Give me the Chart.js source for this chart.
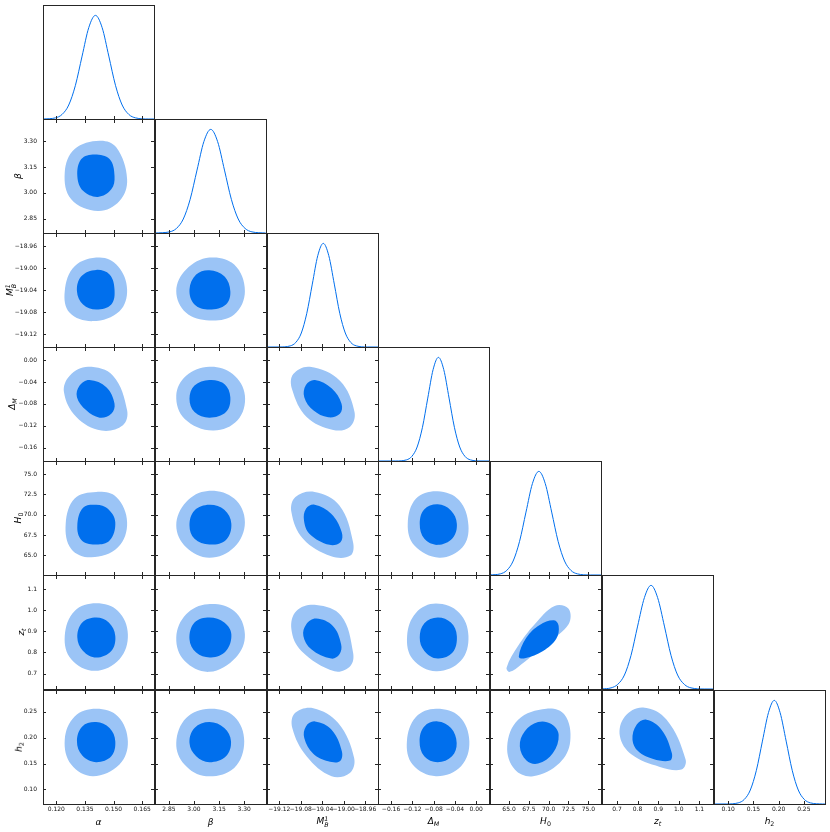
<!DOCTYPE html>
<html>
<head>
<meta charset="utf-8">
<script src="https://cdn.jsdelivr.net/npm/chart.js@4.4.1/dist/chart.umd.min.js"></script>
<style>
  body { margin: 0; background: #fff; }
  #fig { position: relative; width: 830px; height: 832px; overflow: hidden; background: #fff; }
  #fig canvas { position: absolute; }
  .lab { position: absolute; font-family: "DejaVu Sans"; font-size: 9px; color: #000; white-space: nowrap; transform: translate(-50%, -50%); line-height: 1; }
  .lab.rot { transform: translate(-50%, -50%) rotate(-90deg); }
  .lab sub { font-size: 0.7em; vertical-align: -0.35em; }
  .ss { display: inline-flex; flex-direction: column; font-size: 0.7em; line-height: 1; vertical-align: 3.5px; font-style: italic; }
  .ss sup, .ss sub { font-size: 1em; vertical-align: baseline; }
</style>
</head>
<body>
<div id="fig"></div>
<script>
// axis limits and ticks, one per parameter
const alphaLim = [0.113, 0.1712];
const betaLim = [2.767, 3.43];
const mbLim = [-19.143, -18.936];
const dmLim = [-0.1845, 0.024];
const h0Lim = [62.6, 76.6];
const ztLim = [0.627, 1.166];
const h2Lim = [0.072, 0.292];

const alphaTicks = [0.120, 0.135, 0.150, 0.165];
const betaTicks = [2.85, 3.00, 3.15, 3.30];
const mbTicks = [-19.12, -19.08, -19.04, -19.00, -18.96];
const dmTicks = [-0.16, -0.12, -0.08, -0.04, 0.00];
const h0Ticks = [65.0, 67.5, 70.0, 72.5, 75.0];
const ztTicks = [0.7, 0.8, 0.9, 1.0, 1.1];
const h2Ticks = [0.10, 0.15, 0.20, 0.25];

// 1D marginals (diagonal)
const alphaGrid = [0.113, 0.1195, 0.123, 0.1265, 0.130, 0.1335, 0.137, 0.1405, 0.144, 0.1475, 0.151, 0.1545, 0.158, 0.1615, 0.1685, 0.1712];
const alphaPdf = [0, 0.011, 0.044, 0.135, 0.325, 0.607, 0.882, 1, 0.882, 0.607, 0.325, 0.135, 0.044, 0.011, 0, 0];
const betaGrid = [2.767, 2.854, 2.895, 2.936, 2.977, 3.018, 3.059, 3.100, 3.141, 3.182, 3.223, 3.264, 3.305, 3.346, 3.428];
const betaPdf = [0, 0.011, 0.044, 0.135, 0.325, 0.607, 0.882, 1, 0.882, 0.607, 0.325, 0.135, 0.044, 0.011, 0];
const mbGrid = [-19.143, -19.120, -19.0995, -19.0893, -19.079, -19.0688, -19.0585, -19.0483, -19.038, -19.0278, -19.0175, -19.0073, -18.997, -18.9868, -18.9765, -18.956, -18.936];
const mbPdf = [0, 0.0003, 0.011, 0.044, 0.135, 0.325, 0.607, 0.882, 1, 0.882, 0.607, 0.325, 0.135, 0.044, 0.011, 0.0003, 0];
const dmGrid = [-0.1845, -0.151, -0.131, -0.121, -0.111, -0.101, -0.091, -0.081, -0.071, -0.061, -0.051, -0.041, -0.031, -0.021, -0.011, 0.009, 0.024];
const dmPdf = [0, 0.0003, 0.011, 0.044, 0.135, 0.325, 0.607, 0.882, 1, 0.882, 0.607, 0.325, 0.135, 0.044, 0.011, 0.0003, 0];
const h0Grid = [62.6, 63.9, 64.71, 65.52, 66.33, 67.14, 67.95, 68.76, 69.57, 70.38, 71.19, 72.0, 72.81, 73.62, 75.24, 76.6];
const h0Pdf = [0.001, 0.011, 0.044, 0.135, 0.325, 0.607, 0.882, 1, 0.882, 0.607, 0.325, 0.135, 0.044, 0.011, 0.0003, 0];
const ztGrid = [0.627, 0.671, 0.703, 0.736, 0.768, 0.800, 0.833, 0.865, 0.897, 0.930, 0.962, 0.994, 1.027, 1.059, 1.123, 1.166];
const ztPdf = [0.001, 0.011, 0.044, 0.135, 0.325, 0.607, 0.882, 1, 0.882, 0.607, 0.325, 0.135, 0.044, 0.011, 0.0003, 0];
const h2Grid = [0.072, 0.0963, 0.120, 0.132, 0.144, 0.156, 0.168, 0.180, 0.1915, 0.203, 0.215, 0.227, 0.239, 0.251, 0.263, 0.287, 0.292];
const h2Pdf = [0, 0.0003, 0.011, 0.044, 0.135, 0.325, 0.607, 0.882, 1, 0.882, 0.607, 0.325, 0.135, 0.044, 0.011, 0.0003, 0];

// 2D contours: [x, y] boundary points, 95% (out) and 68% (in)
const betaAlphaOut = [[0.1571,3.080],[0.1514,3.265],[0.1427,3.304],[0.1296,3.255],[0.1244,3.119],[0.1278,2.963],[0.1418,2.895],[0.1531,2.953]];
const betaAlphaIn = [[0.1505,3.099],[0.1479,3.197],[0.1401,3.224],[0.1331,3.197],[0.1310,3.099],[0.1340,3.012],[0.1418,2.977],[0.1488,3.021]];

const mbAlphaOut = [[0.1571,-19.0386],[0.1523,-18.9964],[0.1427,-18.9807],[0.1296,-18.9964],[0.1244,-19.0417],[0.1270,-19.0809],[0.1392,-19.0960],[0.1531,-19.0779]];
const mbAlphaIn = [[0.1505,-19.0386],[0.1479,-19.0115],[0.1409,-19.0030],[0.1331,-19.0145],[0.1308,-19.0417],[0.1340,-19.0658],[0.1409,-19.0749],[0.1488,-19.0658]];
const mbBetaOut = [[3.304,-19.0417],[3.240,-18.9934],[3.092,-18.9807],[2.953,-19.0024],[2.894,-19.0417],[2.953,-19.0809],[3.092,-19.0948],[3.240,-19.0839]];
const mbBetaIn = [[3.217,-19.0417],[3.181,-19.0145],[3.092,-19.0036],[3.013,-19.0115],[2.973,-19.0386],[3.003,-19.0658],[3.092,-19.0749],[3.191,-19.0658]];

const dmAlphaOut = [[0.1571,-0.0919],[0.1497,-0.0285],[0.1366,-0.0122],[0.1270,-0.0285],[0.1240,-0.0587],[0.1305,-0.1040],[0.1436,-0.1288],[0.1549,-0.1191]];
const dmAlphaIn = [[0.1505,-0.0798],[0.1462,-0.0497],[0.1374,-0.0364],[0.1322,-0.0466],[0.1308,-0.0678],[0.1357,-0.0919],[0.1427,-0.1052],[0.1488,-0.0980]];
const dmBetaOut = [[3.304,-0.0648],[3.231,-0.0255],[3.092,-0.0122],[2.953,-0.0285],[2.894,-0.0648],[2.943,-0.1070],[3.112,-0.1288],[3.260,-0.1100]];
const dmBetaIn = [[3.217,-0.0678],[3.181,-0.0436],[3.092,-0.0364],[3.003,-0.0466],[2.973,-0.0708],[3.003,-0.0949],[3.092,-0.1052],[3.191,-0.0949]];
const dmMbOut = [[-18.9798,-0.0949],[-19.0071,-0.0376],[-19.0629,-0.0122],[-19.0940,-0.0255],[-19.0964,-0.0527],[-19.0691,-0.1040],[-19.0195,-0.1276],[-18.9885,-0.1221]];
const dmMbIn = [[-19.0040,-0.0798],[-19.0226,-0.0515],[-19.0536,-0.0364],[-19.0704,-0.0454],[-19.0735,-0.0678],[-19.0567,-0.0919],[-19.0288,-0.1046],[-19.0071,-0.0980]];

const h0AlphaOut = [[0.1571,69.09],[0.1514,72.18],[0.1409,72.80],[0.1296,71.98],[0.1249,68.89],[0.1278,65.80],[0.1383,64.77],[0.1523,66.01]];
const h0AlphaIn = [[0.1509,69.09],[0.1470,70.74],[0.1409,71.23],[0.1340,70.86],[0.1310,68.68],[0.1331,66.91],[0.1401,66.34],[0.1479,66.83]];
const h0BetaOut = [[3.304,69.09],[3.240,71.98],[3.082,72.92],[2.953,71.56],[2.894,68.68],[2.953,66.01],[3.092,64.73],[3.240,66.01]];
const h0BetaIn = [[3.223,68.89],[3.181,70.62],[3.092,71.23],[3.003,70.53],[2.973,68.68],[3.003,67.04],[3.092,66.34],[3.191,66.91]];
const h0MbOut = [[-18.9825,66.63],[-19.0079,71.15],[-19.0542,72.80],[-19.0900,72.18],[-19.0975,70.33],[-19.0758,67.04],[-19.0233,64.90],[-18.9875,64.98]];
const h0MbIn = [[-19.0036,67.86],[-19.0233,70.12],[-19.0542,71.23],[-19.0703,70.74],[-19.0740,69.30],[-19.0635,67.65],[-19.0264,66.30],[-19.0060,66.63]];
const h0DmOut = [[-0.0146,68.68],[-0.0321,71.77],[-0.0725,72.88],[-0.1130,71.98],[-0.1286,68.89],[-0.1161,66.21],[-0.0694,64.73],[-0.0258,66.01]];
const h0DmIn = [[-0.0364,68.89],[-0.0476,70.53],[-0.0725,71.28],[-0.0974,70.66],[-0.1061,68.89],[-0.0974,67.04],[-0.0725,66.30],[-0.0445,67.12]];

const ztAlphaOut = [[0.1575,0.886],[0.1523,0.996],[0.1409,1.032],[0.1296,0.996],[0.1244,0.878],[0.1278,0.768],[0.1401,0.713],[0.1531,0.768]];
const ztAlphaIn = [[0.1509,0.878],[0.1475,0.941],[0.1409,0.965],[0.1336,0.941],[0.1310,0.870],[0.1340,0.807],[0.1409,0.776],[0.1488,0.807]];
const ztBetaOut = [[3.304,0.886],[3.240,0.996],[3.082,1.028],[2.953,0.980],[2.894,0.870],[2.943,0.760],[3.092,0.708],[3.250,0.776]];
const ztBetaIn = [[3.223,0.886],[3.181,0.941],[3.092,0.965],[3.003,0.941],[2.973,0.862],[3.013,0.799],[3.102,0.776],[3.191,0.807]];
const ztMbOut = [[-18.9825,0.799],[-19.0048,0.973],[-19.0511,1.024],[-19.0882,0.996],[-19.0975,0.909],[-19.0789,0.807],[-19.0171,0.711],[-18.9875,0.736]];
const ztMbIn = [[-19.0048,0.839],[-19.0202,0.925],[-19.0511,0.960],[-19.0697,0.933],[-19.0752,0.878],[-19.0604,0.815],[-19.0233,0.771],[-19.0079,0.791]];
const ztDmOut = [[-0.0146,0.878],[-0.0321,0.988],[-0.0756,1.031],[-0.1130,0.988],[-0.1298,0.878],[-0.1192,0.768],[-0.0756,0.711],[-0.0289,0.760]];
const ztDmIn = [[-0.0364,0.878],[-0.0476,0.941],[-0.0725,0.965],[-0.0974,0.938],[-0.1061,0.870],[-0.0974,0.807],[-0.0725,0.771],[-0.0445,0.799]];
const ztH0Out = [[64.69,0.728],[66.15,0.831],[68.24,0.933],[70.75,1.020],[72.51,1.007],[72.51,0.933],[69.92,0.847],[66.57,0.744],[65.10,0.708]];
const ztH0In = [[66.23,0.780],[67.20,0.870],[68.87,0.930],[70.67,0.952],[71.26,0.925],[70.96,0.865],[69.29,0.807],[66.99,0.772]];

const h2AlphaOut = [[0.1575,0.1929],[0.1523,0.2410],[0.1409,0.2558],[0.1296,0.2410],[0.1244,0.1962],[0.1278,0.1481],[0.1392,0.1256],[0.1531,0.1481]];
const h2AlphaIn = [[0.1509,0.1929],[0.1479,0.2186],[0.1409,0.2301],[0.1336,0.2218],[0.1308,0.1929],[0.1336,0.1654],[0.1409,0.1526],[0.1488,0.1641]];
const h2BetaOut = [[3.300,0.1929],[3.240,0.2410],[3.092,0.2558],[2.953,0.2378],[2.894,0.1897],[2.943,0.1481],[3.072,0.1256],[3.240,0.1417]];
const h2BetaIn = [[3.221,0.1929],[3.181,0.2186],[3.092,0.2301],[3.003,0.2186],[2.973,0.1897],[3.013,0.1641],[3.092,0.1526],[3.191,0.1641]];
const h2MbOut = [[-18.9805,0.1609],[-19.0102,0.2282],[-19.0567,0.2570],[-19.0909,0.2474],[-19.0958,0.2186],[-19.0692,0.1641],[-19.0226,0.1256],[-18.9885,0.1320]];
const h2MbIn = [[-19.0034,0.1737],[-19.0226,0.2154],[-19.0536,0.2314],[-19.0704,0.2218],[-19.0735,0.1994],[-19.0567,0.1692],[-19.0288,0.1545],[-19.0071,0.1545]];
const h2DmOut = [[-0.0129,0.1929],[-0.0317,0.2410],[-0.0756,0.2558],[-0.1133,0.2397],[-0.1302,0.1929],[-0.1195,0.1481],[-0.0756,0.1256],[-0.0285,0.1449]];
const h2DmIn = [[-0.0367,0.1897],[-0.0474,0.2186],[-0.0725,0.2314],[-0.0976,0.2218],[-0.1064,0.1929],[-0.0976,0.1641],[-0.0725,0.1526],[-0.0455,0.1641]];
const h2H0Out = [[72.72,0.1930],[72.01,0.2442],[69.71,0.2558],[66.15,0.2346],[64.77,0.1833],[65.73,0.1385],[68.03,0.1256],[71.38,0.1513]];
const h2H0In = [[71.26,0.2058],[70.33,0.2263],[68.66,0.2301],[66.99,0.2122],[66.36,0.1833],[67.20,0.1558],[68.66,0.1500],[70.54,0.1705]];
const h2ZtOut = [[1.033,0.1577],[0.941,0.2346],[0.827,0.2583],[0.738,0.2410],[0.714,0.2026],[0.771,0.1673],[0.908,0.1436],[1.013,0.1385]];
const h2ZtIn = [[0.966,0.1705],[0.916,0.2154],[0.843,0.2346],[0.795,0.2250],[0.775,0.1962],[0.803,0.1737],[0.876,0.1590],[0.957,0.1558]];

// layout of the grid
const PW = 111, PH = 114;
const colLeft = [43, 155, 267, 378, 490, 602, 714];
const rowTop = [5, 119, 233, 347, 461, 575, 690];

const DARK = '#006FED';
const LIGHT = '#9BC4F6';

const params = [
  { lim: alphaLim, ticks: alphaTicks, dec: 3, grid: alphaGrid, pdf: alphaPdf },
  { lim: betaLim, ticks: betaTicks, dec: 2, grid: betaGrid, pdf: betaPdf },
  { lim: mbLim, ticks: mbTicks, dec: 2, grid: mbGrid, pdf: mbPdf },
  { lim: dmLim, ticks: dmTicks, dec: 2, grid: dmGrid, pdf: dmPdf },
  { lim: h0Lim, ticks: h0Ticks, dec: 1, grid: h0Grid, pdf: h0Pdf },
  { lim: ztLim, ticks: ztTicks, dec: 1, grid: ztGrid, pdf: ztPdf },
  { lim: h2Lim, ticks: h2Ticks, dec: 2, grid: h2Grid, pdf: h2Pdf },
];

// [row, col, outer, inner]
const contours = [
  [1, 0, betaAlphaOut, betaAlphaIn],
  [2, 0, mbAlphaOut, mbAlphaIn], [2, 1, mbBetaOut, mbBetaIn],
  [3, 0, dmAlphaOut, dmAlphaIn], [3, 1, dmBetaOut, dmBetaIn], [3, 2, dmMbOut, dmMbIn],
  [4, 0, h0AlphaOut, h0AlphaIn], [4, 1, h0BetaOut, h0BetaIn], [4, 2, h0MbOut, h0MbIn], [4, 3, h0DmOut, h0DmIn],
  [5, 0, ztAlphaOut, ztAlphaIn], [5, 1, ztBetaOut, ztBetaIn], [5, 2, ztMbOut, ztMbIn], [5, 3, ztDmOut, ztDmIn], [5, 4, ztH0Out, ztH0In],
  [6, 0, h2AlphaOut, h2AlphaIn], [6, 1, h2BetaOut, h2BetaIn], [6, 2, h2MbOut, h2MbIn], [6, 3, h2DmOut, h2DmIn], [6, 4, h2H0Out, h2H0In], [6, 5, h2ZtOut, h2ZtIn],
];

const axisNames = [
  '<i>α</i>',
  '<i>β</i>',
  '<i>M</i><span class="ss"><sup>1</sup><sub>B</sub></span>',
  '<i>Δ</i><sub><i>M</i></sub>',
  '<i>H</i><sub>0</sub>',
  '<i>z</i><sub><i>t</i></sub>',
  '<i>h</i><sub>2</sub>',
];
const yLabelX = [0, 18, 11, 12.5, 19, 21.5, 20];

const fig = document.getElementById('fig');

const fmt = (v, d) => Number(v).toFixed(d).replace('-', '\u2212');

// closed loop: repeat the first points so the spline joins smoothly
const loop = pts => [...pts, pts[0], pts[1], pts[2]].map(([x, y]) => ({ x, y }));

// frame + inward tick marks
const framePlugin = {
  id: 'frame',
  afterDraw(chart, args, opts) {
    const { ctx, chartArea: a } = chart;
    const xs = chart.scales.x, ys = chart.scales.y;
    const l = Math.round(a.left), t = Math.round(a.top), r = Math.round(a.right), b = Math.round(a.bottom);
    ctx.save();
    ctx.strokeStyle = '#262626';
    ctx.lineWidth = 1;
    ctx.strokeRect(l + 0.5, t + 0.5, r - l, b - t);
    ctx.beginPath();
    xs.ticks.forEach(tk => {
      const px = Math.round(xs.getPixelForValue(tk.value)) + 0.5;
      ctx.moveTo(px, b); ctx.lineTo(px, b - 3);
      if (!opts.diag) { ctx.moveTo(px, t); ctx.lineTo(px, t + 4); }
    });
    if (!opts.diag) {
      ys.ticks.forEach(tk => {
        const py = Math.round(ys.getPixelForValue(tk.value)) + 0.5;
        ctx.moveTo(l, py); ctx.lineTo(l + 3, py);
        ctx.moveTo(r, py); ctx.lineTo(r - 3, py);
      });
    }
    ctx.stroke();
    ctx.restore();
  }
};

function axisOpts(p, show, dir) {
  return {
    type: 'linear',
    min: p.lim[0],
    max: p.lim[1],
    display: show,
    afterBuildTicks: s => { s.ticks = p.ticks.map(v => ({ value: v })); },
    afterFit: s => {
      if (!show) return;
      if (dir === 'x') s.height = 28; else s.width = 43;
    },
    grid: { drawTicks: false, drawOnChartArea: false },
    border: { display: false },
    ticks: {
      autoSkip: false, maxRotation: 0, minRotation: 0,
      padding: dir === 'x' ? 2 : 6,
      color: '#111',
      font: { family: 'DejaVu Sans', size: 6 },
      callback: v => fmt(v, p.dec)
    }
  };
}

function makePanel(i, j, datasets) {
  const showX = i === 6, showY = j === 0 && i > 0;
  // spare room round the plot box so tick labels never squeeze it
  const L = j === 0 ? 43 : 14, R = 14, T = 14, B = showX ? 28 : 14;
  const cv = document.createElement('canvas');
  cv.width = L + PW + R;
  cv.height = T + PH + B;
  cv.style.left = (colLeft[j] - L) + 'px';
  cv.style.top = (rowTop[i] - T) + 'px';
  fig.appendChild(cv);
  new Chart(cv, {
    type: 'scatter',
    data: { datasets },
    options: {
      responsive: false,
      animation: false,
      devicePixelRatio: 1,
      events: [],
      layout: { padding: { left: showY ? 0 : L, right: R, top: T, bottom: showX ? 0 : B } },
      plugins: { legend: { display: false }, tooltip: { enabled: false }, frame: { diag: i === j } },
      scales: {
        x: axisOpts(params[j], showX, 'x'),
        y: i === j ? { type: 'linear', min: 0, max: 1.1, display: false } : axisOpts(params[i], showY, 'y')
      }
    },
    plugins: [framePlugin]
  });
}

// diagonal 1D curves
params.forEach((p, k) => {
  makePanel(k, k, [{
    data: p.grid.map((x, n) => ({ x, y: p.pdf[n] })),
    showLine: true,
    borderColor: DARK,
    borderWidth: 1,
    pointRadius: 0,
    fill: false,
    cubicInterpolationMode: 'monotone'
  }]);
});

// off-diagonal filled contours
contours.forEach(([i, j, outer, inner]) => {
  const shape = (pts, color, order) => ({
    data: loop(pts),
    showLine: true,
    fill: 'shape',
    backgroundColor: color,
    borderColor: 'rgba(0,0,0,0)',
    borderWidth: 0.5,
    pointRadius: 0,
    tension: 0.38,
    order
  });
  makePanel(i, j, [shape(outer, LIGHT, 2), shape(inner, DARK, 1)]);
});

// axis titles
axisNames.forEach((html, k) => {
  const xl = document.createElement('div');
  xl.className = 'lab';
  xl.innerHTML = html;
  xl.style.left = (colLeft[k] + PW / 2) + 'px';
  xl.style.top = '822px';
  fig.appendChild(xl);
  if (k > 0) {
    const yl = document.createElement('div');
    yl.className = 'lab rot';
    yl.innerHTML = html;
    yl.style.left = yLabelX[k] + 'px';
    yl.style.top = (rowTop[k] + PH / 2) + 'px';
    fig.appendChild(yl);
  }
});
</script>
</body>
</html>
